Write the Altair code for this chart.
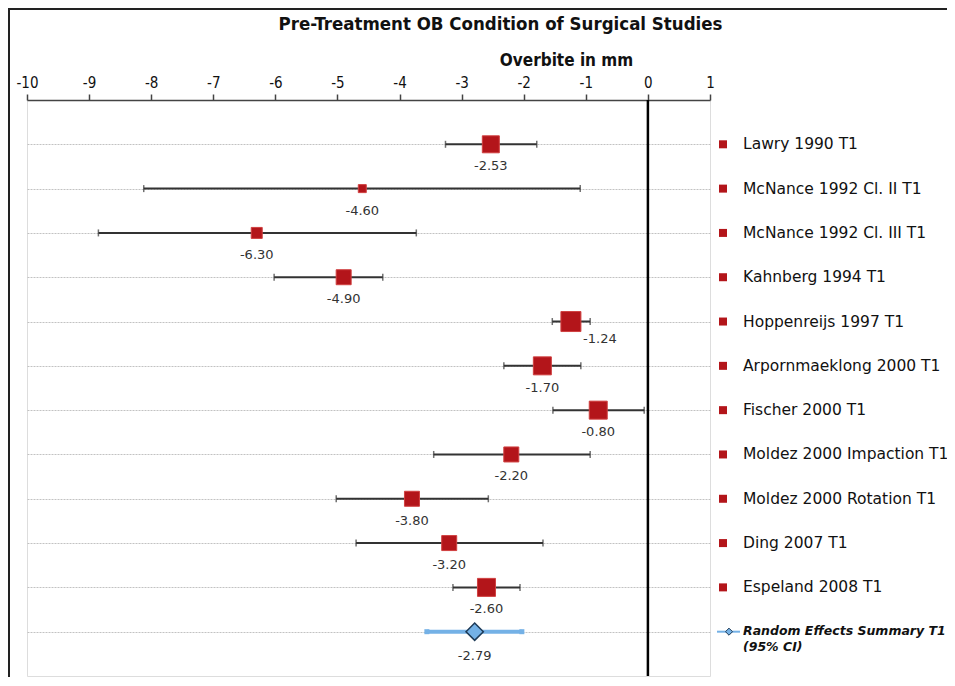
import altair as alt
import pandas as pd

studies = ["Lawry 1990 T1", "McNance 1992 Cl. II T1", "McNance 1992 Cl. III T1",
           "Kahnberg 1994 T1", "Hoppenreijs 1997 T1", "Arpornmaeklong 2000 T1",
           "Fischer 2000 T1", "Moldez 2000 Impaction T1", "Moldez 2000 Rotation T1",
           "Ding 2007 T1", "Espeland 2008 T1"]
means = [-2.53, -4.60, -6.30, -4.90, -1.24, -1.70, -0.80, -2.20, -3.80, -3.20, -2.60]
lows = [-3.26, -8.12, -8.85, -6.02, -1.54, -2.32, -1.53, -3.45, -5.02, -4.70, -3.14]
highs = [-1.79, -1.09, -3.73, -4.27, -0.93, -1.08, -0.06, -0.93, -2.57, -1.69, -2.06]
weights = [289, 64, 121, 225, 400, 324, 324, 225, 225, 225, 324]  # marker areas (study weight)

summary_name = "Random Effects Summary T1\n(95% CI)"
summary_mean = [-2.79]
summary_low = [-3.56]
summary_high = [-2.03]

x_ticks = list(range(-10, 2))

W, H = 683, 576
RED = "#b3151a"
BLUE = "#74b1e6"
COND = "DejaVu Sans Condensed, Liberation Sans Narrow, DejaVu Sans"
SANS = "DejaVu Sans"

df = pd.DataFrame({"study": studies, "mean": means, "low": lows, "high": highs,
                   "weight": weights, "row": list(range(1, len(studies) + 1))})
sdf = pd.DataFrame({"study": [summary_name], "mean": summary_mean, "low": summary_low,
                    "high": summary_high, "row": [len(studies) + 1]})

x_scale = alt.Scale(domain=[-10, 1], nice=False, zero=False)
y_scale = alt.Scale(domain=[0, 13], reverse=True, nice=False, zero=False)
XT = "Overbite in mm"


def X(field):
    return alt.X(field, scale=x_scale, title=XT)


def Y():
    return alt.Y("row:Q", scale=y_scale, title=None)


base = alt.Chart(df)
sbase = alt.Chart(sdf)

bars = base.mark_rule(color="#333333", strokeWidth=2).encode(
    x=alt.X("low:Q", scale=x_scale, title=XT,
            axis=alt.Axis(orient="top", values=x_ticks, format="d", grid=False,
                          domainColor="#444444", domainWidth=1.5,
                          tickColor="#444444", tickWidth=1.5, tickSize=6,
                          labelFont=COND, labelFontSize=15, labelColor="#111111",
                          labelPadding=4, labelFlush=False,
                          titleFont=COND, titleFontSize=17, titleFontWeight="bold",
                          titleColor="#111111", titleX=539, titleY=-40,
                          titleBaseline="middle", titleAnchor="start", titleAlign="center")),
    x2="high:Q",
    y=alt.Y("row:Q", scale=y_scale, title=None,
            axis=alt.Axis(values=list(range(1, 13)), grid=True, labels=False, ticks=False,
                          domain=False, gridColor="#c2c2c2", gridWidth=1, gridDash=[2, 1])),
)

zero = alt.Chart(pd.DataFrame({"z": [0]})).mark_rule(color="black", strokeWidth=2.5).encode(
    x=X("z:Q"))

cap_lo = base.mark_tick(orient="vertical", color="#333333", size=7, thickness=1.5).encode(
    x=X("low:Q"), y=Y())
cap_hi = base.mark_tick(orient="vertical", color="#333333", size=7, thickness=1.5).encode(
    x=X("high:Q"), y=Y())

squares = base.mark_point(shape="square", filled=True, fill=RED, stroke="#d04040",
                          strokeWidth=1, opacity=1, fillOpacity=1).encode(
    x=X("mean:Q"), y=Y(), size=alt.Size("weight:Q", scale=None, legend=None))

labels = base.transform_filter(alt.datum.study != "Hoppenreijs 1997 T1").mark_text(
    dy=22, fontSize=13, font=SANS, color="#333333").encode(
    x=X("mean:Q"), y=Y(), text=alt.Text("mean:Q", format=".2f"))
labels_h = base.transform_filter(alt.datum.study == "Hoppenreijs 1997 T1").mark_text(
    dy=17, dx=29, fontSize=13, font=SANS, color="#333333").encode(
    x=X("mean:Q"), y=Y(), text=alt.Text("mean:Q", format=".2f"))

# summary
s_bar = sbase.mark_rule(color=BLUE, strokeWidth=4).encode(x=X("low:Q"), x2="high:Q", y=Y())
s_cap_lo = sbase.mark_point(shape="square", filled=True, color=BLUE, size=25, opacity=1).encode(
    x=X("low:Q"), y=Y())
s_cap_hi = sbase.mark_point(shape="square", filled=True, color=BLUE, size=25, opacity=1).encode(
    x=X("high:Q"), y=Y())
s_dia = sbase.mark_point(shape="diamond", filled=True, fill=BLUE, stroke="#1d3a57",
                         strokeWidth=1.5, size=300, opacity=1, fillOpacity=1).encode(
    x=X("mean:Q"), y=Y())
s_label = sbase.mark_text(dy=24, fontSize=13, font=SANS, color="#333333").encode(
    x=X("mean:Q"), y=Y(), text=alt.Text("mean:Q", format=".2f"))

# legend (right side)
leg_sq = base.mark_point(shape="square", filled=True, color=RED, size=64, opacity=1).encode(
    x=alt.value(696), y=Y())
leg_tx = base.mark_text(align="left", baseline="middle", fontSize=15.5, font=SANS,
                        color="#111111").encode(x=alt.value(716), y=Y(), text="study:N")
leg_s_line = sbase.mark_rule(color=BLUE, strokeWidth=2).encode(
    x=alt.value(690), x2=alt.value(713), y=Y())
leg_s_dia = sbase.mark_point(shape="diamond", filled=True, fill=BLUE, stroke="#1d3a57",
                             strokeWidth=1, size=50, opacity=1).encode(x=alt.value(702), y=Y())
leg_s_tx = sbase.mark_text(align="left", baseline="top", dy=-7, fontSize=12.5, font=SANS,
                           fontWeight="bold", fontStyle="italic", lineBreak="\n",
                           lineHeight=16, color="#111111").encode(
    x=alt.value(716), y=Y(), text="study:N")

frame = alt.Chart(pd.DataFrame({"a": [0]})).mark_rect(
    fillOpacity=0, stroke="#222222", strokeWidth=2).encode(
    x=alt.value(-18), x2=alt.value(1300), y=alt.value(-91), y2=alt.value(1000))

chart = alt.layer(
    bars, zero, cap_lo, cap_hi, squares, labels, labels_h,
    s_bar, s_cap_lo, s_cap_hi, s_dia, s_label,
    leg_sq, leg_tx, leg_s_line, leg_s_dia, leg_s_tx, frame
).properties(
    width=W, height=H,
    autosize=alt.AutoSizeParams(type="none"),
    padding={"left": 19, "top": 92, "right": 237, "bottom": 1},
    title=alt.TitleParams("Pre-Treatment OB Condition of Surgical Studies",
                          font=COND, fontSize=18.5, fontWeight="bold", color="#111111",
                          anchor="middle", dx=132, offset=0, dy=25),
).configure_view(
    fill="#e0e0e0", stroke="#8c8c8c", strokeWidth=1.5
).configure(
    locale={"number": {"decimal": ".", "thousands": ",", "grouping": [3],
                       "currency": ["$", ""], "minus": "-"}}
)

chart.save("out.html", embed_options={"renderer": "svg", "actions": False})
